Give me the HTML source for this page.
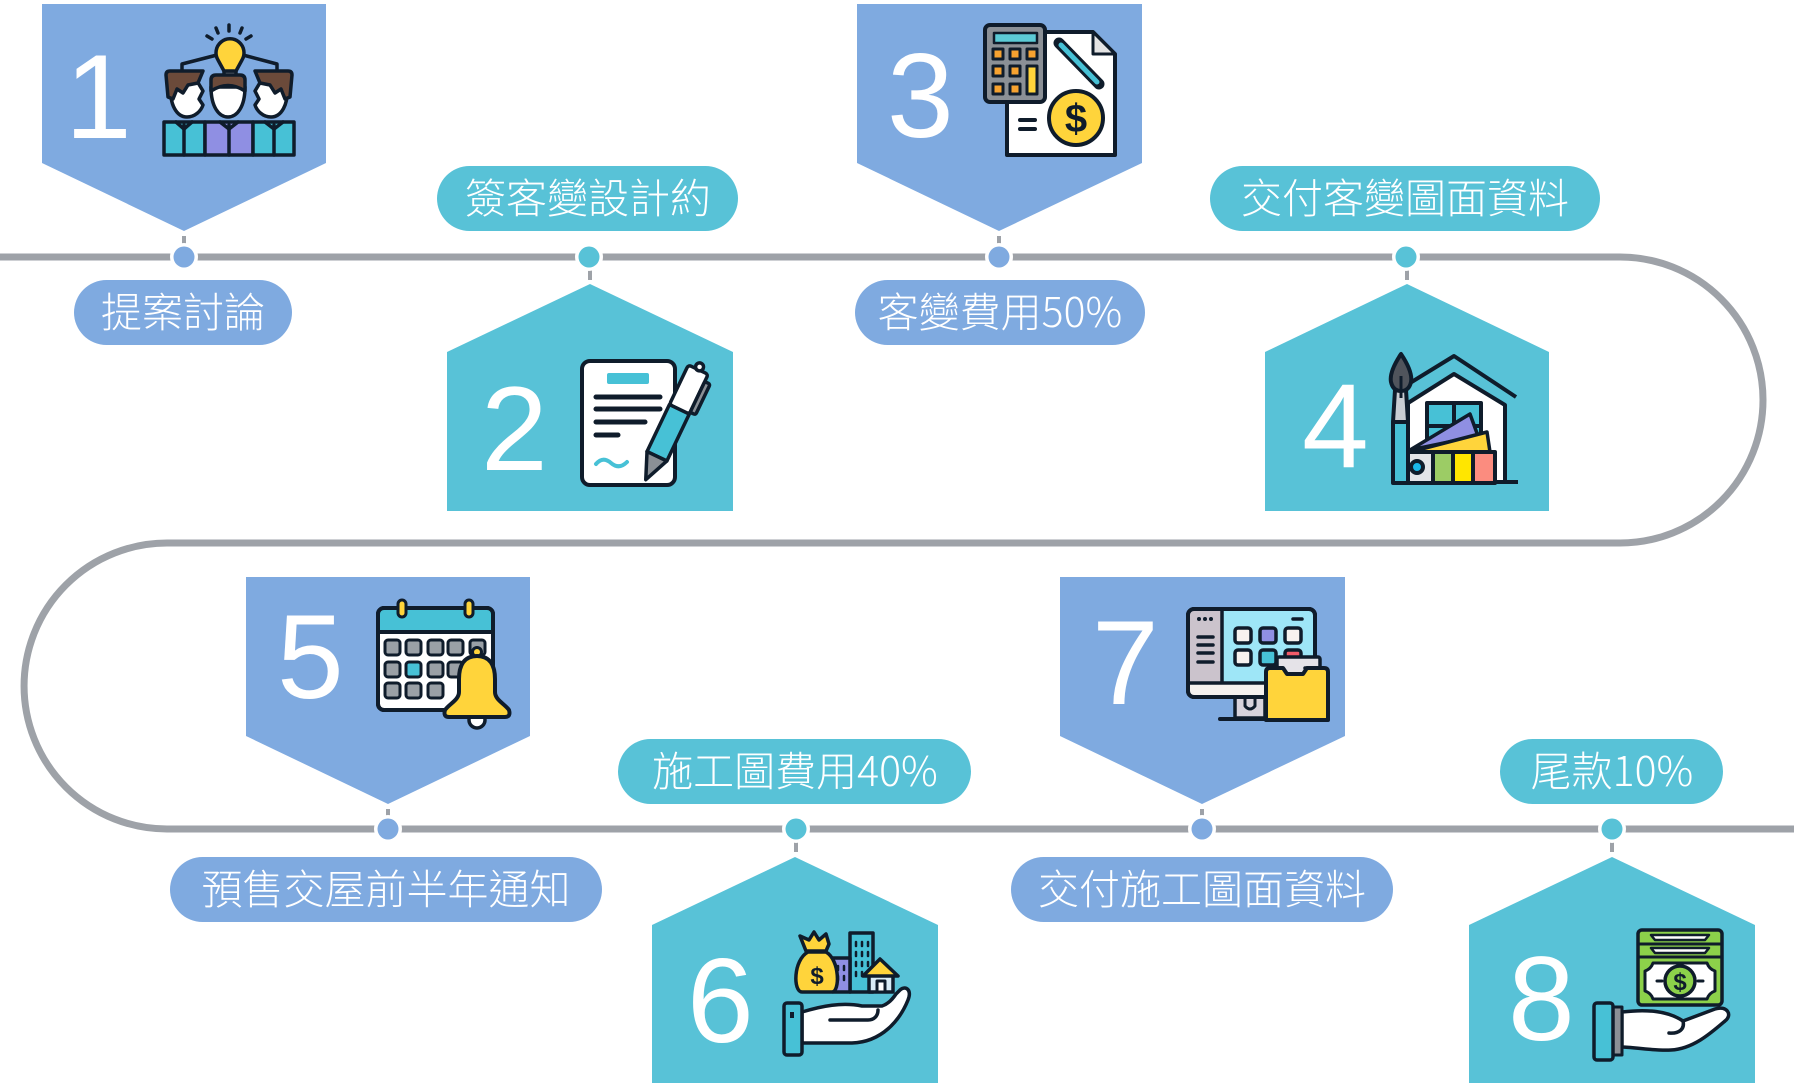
<!DOCTYPE html>
<html><head><meta charset="utf-8">
<style>
html,body{margin:0;padding:0;background:#fff;}
svg{display:block}
text{font-family:"Liberation Sans","Noto Sans CJK TC",sans-serif;}
.pt{font-weight:300;}
.nd{font-family:"Noto Sans CJK TC","Liberation Sans",sans-serif;font-weight:300;}
</style></head>
<body>
<svg width="1794" height="1088" viewBox="0 0 1794 1088" xmlns="http://www.w3.org/2000/svg">
<!-- main path -->
<path d="M0 257 H1620 A143 143 0 0 1 1620 543 H167 A143 143 0 0 0 167 829 H1794" fill="none" stroke="#9ea2a8" stroke-width="7"/>

<!-- boxes -->
<g fill="#7faae0">
<polygon points="42,4 326,4 326,163 184,231 42,163"/>
<polygon points="857,4 1142,4 1142,163 999,231 857,163"/>
<polygon points="246,577 530,577 530,736 388,804 246,736"/>
<polygon points="1060,577 1345,577 1345,736 1202,804 1060,736"/>
</g>
<g fill="#58c2d7">
<polygon points="590,284 733,352 733,511 447,511 447,352"/>
<polygon points="1407,284 1549,352 1549,511 1265,511 1265,352"/>
<polygon points="795,857 938,925 938,1083 652,1083 652,925"/>
<polygon points="1612,857 1755,925 1755,1083 1469,1083 1469,925"/>
</g>

<!-- ticks -->
<g fill="#9ea2a8">
<rect x="182" y="236" width="4" height="10"/>
<rect x="997" y="236" width="4" height="10"/>
<rect x="588" y="270" width="4" height="10"/>
<rect x="1405" y="270" width="4" height="10"/>
<rect x="386" y="809" width="4" height="10"/>
<rect x="1200" y="809" width="4" height="10"/>
<rect x="794" y="842" width="4" height="10"/>
<rect x="1610" y="842" width="4" height="10"/>
</g>

<!-- dots -->
<g fill="#fff">
<circle cx="184" cy="257" r="14"/><circle cx="589" cy="257" r="14"/><circle cx="999" cy="257" r="14"/><circle cx="1406" cy="257" r="14"/>
<circle cx="388" cy="829" r="14"/><circle cx="796" cy="829" r="14"/><circle cx="1202" cy="829" r="14"/><circle cx="1612" cy="829" r="14"/>
</g>
<g fill="#7faae0">
<circle cx="184" cy="257" r="10.5"/><circle cx="999" cy="257" r="10.5"/><circle cx="388" cy="829" r="10.5"/><circle cx="1202" cy="829" r="10.5"/>
</g>
<g fill="#58c2d7">
<circle cx="589" cy="257" r="10.5"/><circle cx="1406" cy="257" r="10.5"/><circle cx="796" cy="829" r="10.5"/><circle cx="1612" cy="829" r="10.5"/>
</g>

<!-- pills -->
<rect x="74" y="280" width="218" height="65" rx="32.5" fill="#7faae0"/>
<rect x="437" y="166" width="301" height="65" rx="32.5" fill="#58c2d7"/>
<rect x="855" y="280" width="290" height="65" rx="32.5" fill="#7faae0"/>
<rect x="1210" y="166" width="390" height="65" rx="32.5" fill="#58c2d7"/>
<rect x="170" y="857" width="432" height="65" rx="32.5" fill="#7faae0"/>
<rect x="618" y="739" width="353" height="65" rx="32.5" fill="#58c2d7"/>
<rect x="1011" y="857" width="382" height="65" rx="32.5" fill="#7faae0"/>
<rect x="1500" y="739" width="223" height="65" rx="32.5" fill="#58c2d7"/>

<g fill="#fff" font-size="41" text-anchor="middle" class="pt">
<text x="183" y="327">提案討論</text>
<text x="588" y="213">簽客變設計約</text>
<text x="1000" y="327">客變費用<tspan class="nd">50%</tspan></text>
<text x="1405" y="213">交付客變圖面資料</text>
<text x="386" y="904">預售交屋前半年通知</text>
<text x="795" y="786">施工圖費用<tspan class="nd">40%</tspan></text>
<text x="1202" y="904">交付施工圖面資料</text>
<text x="1612" y="786">尾款<tspan class="nd">10%</tspan></text>
</g>

<!-- numbers -->
<g fill="#fff" font-size="120">
<text x="65" y="138">1</text>
<text x="481" y="470">2</text>
<text x="887" y="137">3</text>
<text x="1302" y="467">4</text>
<text x="277" y="698">5</text>
<text x="687" y="1042">6</text>
<text x="1092" y="704">7</text>
<text x="1508" y="1040">8</text>
</g>

<!-- ICON 1: team idea -->
<g transform="translate(163,25)" stroke="#0f1c2b" stroke-width="3.5" stroke-linejoin="round" stroke-linecap="round">
<path d="M44 11 L49 14 M53 3 L55 8 M66 0 V6 M79 3 L77 8 M88 11 L83 14" fill="none"/>
<path d="M54 30 L19 39 V48 M80 30 L114 39 V48" fill="none"/>
<rect x="61" y="46" width="12" height="7" fill="#9aa0a6"/>
<path d="M61 46 L55 35 A14 14 0 1 1 79 35 L73 46 Z" fill="#ffd43b"/>
<!-- bodies -->
<rect x="1" y="97" width="41" height="33" fill="#47c1d6"/>
<rect x="42" y="97" width="48" height="33" fill="#8f8fe3"/>
<rect x="90" y="97" width="41" height="33" fill="#47c1d6"/>
<path d="M21 100 V130 M66 100 V130 M111 100 V130" fill="none"/>
<path d="M13 97 L21 104 L29 97 M57 97 L66 104 L75 97 M102 97 L111 104 L120 97" fill="none"/>
<!-- left head -->
<path d="M8 60 C6 80 14 92 24 92 C32 92 38 86 40 80 L36 74 L40 66 L34 56 Z" fill="#fff"/>
<path d="M3 50 Q3 46 7 46 H40 L35 58 L25 60 L20 68 L14 64 L10 74 L5 72 Z" fill="#6b4a3a"/>
<!-- middle head -->
<path d="M48 62 C48 82 56 92 65 92 C74 92 82 82 82 62 Z" fill="#fff"/>
<path d="M48 66 V55 Q48 50 53 50 H77 Q82 50 82 55 V66 Q65 55 48 66 Z" fill="#6b4a3a"/>
<!-- right head -->
<path d="M124 60 C126 80 118 92 108 92 C100 92 94 86 92 80 L96 74 L92 66 L98 56 Z" fill="#fff"/>
<path d="M129 50 Q129 46 125 46 H92 L97 58 L107 60 L112 68 L118 64 L122 74 L127 72 Z" fill="#6b4a3a"/>
</g>

<!-- ICON 2: contract -->
<g transform="translate(580,360)" stroke="#0f1c2b" stroke-linejoin="round" stroke-linecap="round">
<rect x="2" y="1" width="93" height="124" rx="8" fill="#fff" stroke-width="4"/>
<rect x="27" y="13" width="42" height="11" rx="2" fill="#47c1d6" stroke="none"/>
<path d="M16 37 H80 M16 49 H80 M16 62 H65 M16 75 H38" stroke-width="5" fill="none"/>
<path d="M16 104 Q23 96 31 103 Q39 110 47 102" stroke="#47c1d6" stroke-width="4" fill="none"/>
<g transform="translate(120,6) rotate(25.5)" stroke-width="3.5">
<rect x="-11" y="4" width="22" height="44" rx="3" fill="#fff"/>
<rect x="11" y="12" width="6" height="34" rx="2" fill="#8b9096"/>
<circle cx="0" cy="1" r="4" fill="#fff"/>
<rect x="-11" y="48" width="22" height="52" fill="#47c1d6"/>
<polygon points="-11,100 11,100 0,126" fill="#8b9096"/>
</g>
</g>

<!-- ICON 3: calculator & bill -->
<g transform="translate(985,25)" stroke="#0f1c2b" stroke-linejoin="round" stroke-linecap="round">
<path d="M22 7 H108 L130 29 V130 H22 Z" fill="#fff" stroke-width="4"/>
<path d="M108 7 V29 H130 Z" fill="#e4e4e4" stroke-width="3"/>
<rect x="0" y="0" width="60" height="77" rx="5" fill="#8b9096" stroke-width="4"/>
<rect x="9" y="8" width="43" height="10" fill="#5ccbd6" stroke-width="2.5"/>
<g fill="#f6a230" stroke-width="3">
<rect x="8" y="24" width="10" height="10"/><rect x="25" y="24" width="10" height="10"/><rect x="42" y="24" width="10" height="10"/>
<rect x="8" y="41" width="10" height="10"/><rect x="25" y="41" width="10" height="10"/>
<rect x="8" y="59" width="10" height="10"/><rect x="25" y="59" width="10" height="10"/>
</g>
<rect x="42" y="41" width="10" height="28" fill="#ffd43b" stroke-width="3"/>
<path d="M74 18 L114 59" stroke-width="11"/>
<path d="M76 20 L112 57" stroke="#47c1d6" stroke-width="5"/>
<path d="M35 95 H50 M35 104 H50" stroke-width="4"/>
<circle cx="91" cy="93" r="27" fill="#ffd43b" stroke-width="4"/>
<text x="91" y="107" font-size="40" font-weight="bold" text-anchor="middle" fill="#0f1c2b" stroke="none">$</text>
</g>

<!-- ICON 4: house & swatches -->
<g transform="translate(1390,354)" stroke="#0f1c2b" stroke-linejoin="round" stroke-width="4">
<path d="M20 29 L64 2 L126 43" fill="none"/>
<path d="M18 49 L64 20 L115 51 V128 H18 Z" fill="#fff"/>
<path d="M115 128 H128" fill="none"/>
<rect x="37" y="49" width="54" height="49" fill="#47c1d6"/>
<path d="M64 49 V98 M37 72 H91" fill="none"/>
<polygon points="20,96 80,60 88,82" fill="#8f8fe3" stroke-width="3.5"/>
<polygon points="20,98 97,78 100,98" fill="#ffd43b" stroke-width="3.5"/>
<rect x="10" y="98" width="33" height="31" fill="#e3e4e8"/>
<rect x="43" y="98" width="20" height="31" fill="#9ccc65"/>
<rect x="63" y="98" width="20" height="31" fill="#ffe600"/>
<rect x="83" y="98" width="22" height="31" fill="#fb8c7f"/>
<circle cx="27" cy="113" r="6" fill="#1ab6e8"/>
<rect x="3" y="68" width="15" height="61" fill="#47c1d6"/>
<path d="M5 36 H16 L18 68 H3 Z" fill="#c9cdd3"/>
<path d="M11 0 Q-1 18 1 28 Q3 37 11 37 Q19 37 21 28 Q23 18 11 0 Z" fill="#50545c"/>
<path d="M11 22 V44" fill="none" stroke-width="3"/>
</g>

<!-- ICON 5: calendar & bell -->
<g transform="translate(377,600)" stroke="#0f1c2b" stroke-linejoin="round">
<rect x="1" y="8" width="115" height="102" rx="6" fill="#fff" stroke-width="4"/>
<path d="M3 10 H114 V32 H3 Z" fill="#47c1d6" stroke="none"/>
<path d="M1 32 H116" stroke-width="4"/>
<rect x="1" y="8" width="115" height="102" rx="6" fill="none" stroke-width="4"/>
<rect x="21" y="0" width="8" height="17" rx="4" fill="#ffd43b" stroke-width="3"/>
<rect x="88" y="0" width="8" height="17" rx="4" fill="#ffd43b" stroke-width="3"/>
<g fill="#9aa0a6" stroke-width="3">
<rect x="8" y="40" width="15" height="15" rx="3"/><rect x="29" y="40" width="15" height="15" rx="3"/><rect x="51" y="40" width="15" height="15" rx="3"/><rect x="71" y="40" width="15" height="15" rx="3"/><rect x="93" y="40" width="15" height="15" rx="3"/>
<rect x="8" y="62" width="15" height="15" rx="3"/><rect x="29" y="62" width="15" height="15" rx="3" fill="#47c1d6"/><rect x="51" y="62" width="15" height="15" rx="3"/><rect x="71" y="62" width="15" height="15" rx="3"/>
<rect x="8" y="83" width="15" height="15" rx="3"/><rect x="29" y="83" width="15" height="15" rx="3"/><rect x="51" y="83" width="15" height="15" rx="3"/>
</g>
<circle cx="100" cy="120" r="8" fill="#fff" stroke-width="3.5"/>
<circle cx="100" cy="52" r="4.5" fill="#ffd43b" stroke-width="3"/>
<path d="M100 56 C86 56 82 67 82 79 V92 C82 100 72 104 68 110 Q66 117 72 117 H128 Q134 117 132 110 C128 104 118 100 118 92 V79 C118 67 114 56 100 56 Z" fill="#ffd43b" stroke-width="4"/>
</g>

<!-- ICON 6: hand with assets -->
<g transform="translate(782,930)" stroke="#0f1c2b" stroke-linejoin="round" stroke-linecap="round" stroke-width="3.5">
<rect x="68" y="3" width="23" height="59" fill="#47c1d6"/>
<path d="M74 12 V16 M80 12 V16 M86 12 V16 M74 22 V26 M80 22 V26 M86 22 V26 M74 32 V36 M80 32 V36 M86 32 V36 M74 42 V46 M80 42 V46" stroke-width="2.5"/>
<rect x="51" y="28" width="17" height="34" fill="#8f8fe3"/>
<path d="M56 36 V40 M62 36 V40 M56 46 V50 M62 46 V50" stroke-width="2.5"/>
<path d="M26 22 C11 30 11 62 20 62 H50 C58 62 58 30 44 22 Z" fill="#ffd43b"/>
<path d="M24 21 L18 6 L27 10 L32 2 L37 10 L44 4 L47 14 L44 21 Z" fill="#ffd43b"/>
<text x="35" y="54" font-size="24" font-weight="bold" text-anchor="middle" fill="#0f1c2b" stroke="none">$</text>
<rect x="87" y="45" width="24" height="17" fill="#d9ecf7"/>
<polygon points="81,46 98,29 116,46" fill="#ffd43b"/>
<rect x="95" y="51" width="8" height="11" fill="#fff" stroke-width="3"/>
<path d="M20 82 C40 76 60 72 80 76 L100 76 C106 74 110 70 114 64 L118 60 C124 55 130 60 126 70 C118 90 100 112 70 113 H20 Z" fill="#fff"/>
<path d="M48 90 H86 C92 90 96 86 96 80" fill="none"/>
<rect x="2" y="73" width="18" height="52" rx="3" fill="#47c1d6"/>
<rect x="8" y="82" width="4" height="6" fill="#0f1c2b" stroke="none"/>
</g>

<!-- ICON 7: monitor & folder -->
<g transform="translate(1187,608)" stroke="#0f1c2b" stroke-linejoin="round" stroke-linecap="round">
<rect x="48" y="88" width="30" height="22" fill="#d8d3dc" stroke-width="3.5"/>
<path d="M58 88 V98 Q63 104 68 98 V88" fill="none" stroke-width="3"/>
<path d="M33 111 H80" stroke-width="4"/>
<rect x="1" y="1" width="127" height="88" rx="6" fill="#9ee6f7" stroke-width="4"/>
<path d="M3 3 H35 V75 H3 Z" fill="#cbc3cc" stroke="none"/>
<path d="M3 76 H126 V87 H3 Z" fill="#f5f1ee" stroke="none"/>
<path d="M35 3 V75 M1 75 H128" stroke-width="3.5"/>
<rect x="1" y="1" width="127" height="88" rx="6" fill="none" stroke-width="4"/>
<g fill="#0f1c2b" stroke="none"><circle cx="12" cy="11" r="2"/><circle cx="18" cy="11" r="2"/><circle cx="24" cy="11" r="2"/></g>
<path d="M11 29 H26 M11 37 H26 M11 45 H26 M11 54 H26 M106 11 H115" stroke-width="3.5"/>
<g stroke-width="3.5">
<rect x="48" y="20" width="16" height="15" rx="3" fill="#f7f2ef"/><rect x="73" y="20" width="16" height="15" rx="3" fill="#8f8fe3"/><rect x="98" y="20" width="16" height="15" rx="3" fill="#f7f2ef"/>
<rect x="48" y="42" width="16" height="15" rx="3" fill="#f7f2ef"/><rect x="73" y="42" width="16" height="15" rx="3" fill="#47c1d6"/><rect x="98" y="42" width="16" height="15" rx="3" fill="#f25c6a"/>
</g>
<rect x="90" y="49" width="43" height="24" rx="2" fill="#e5e3e8" stroke-width="3.5"/>
<path d="M118 60 H126" stroke-width="3.5"/>
<path d="M79 64 Q79 60 83 60 H96 L100 66 H116 L120 60 H137 Q141 60 141 64 V112 H79 Z" fill="#ffd43b" stroke-width="4"/>
</g>

<!-- ICON 8: hand with cash -->
<g transform="translate(1593,929)" stroke="#0f1c2b" stroke-linejoin="round" stroke-linecap="round">
<rect x="45" y="1" width="84" height="75" rx="4" fill="#8cd14a" stroke-width="3.5"/>
<path d="M45 15 H129 M45 28 H129" stroke-width="3"/>
<path d="M58 6 H116 L112 11 H62 Z M58 19 H116 L112 24 H62 Z" fill="#fff" stroke-width="2.5"/>
<path d="M60 34 H114 Q116 40 122 42 V62 Q116 64 114 70 H60 Q58 64 52 62 V42 Q58 40 60 34 Z" fill="#fff" stroke-width="3"/>
<circle cx="87" cy="52" r="15" fill="#8cd14a" stroke-width="3.5"/>
<text x="87" y="61" font-size="24" font-weight="bold" text-anchor="middle" fill="#0f1c2b" stroke="none">$</text>
<path d="M64 52 H69 M105 52 H110" stroke-width="3"/>
<path d="M29 83 C55 80 75 82 90 92 L122 80 C134 76 140 86 132 92 C118 104 100 120 78 121 C60 122 40 118 29 118 Z" fill="#fff" stroke-width="3.5"/>
<path d="M76 104 C86 105 92 100 90 92" fill="none" stroke-width="3.5"/>
<rect x="20" y="78" width="9" height="48" fill="#8b9096" stroke-width="3"/>
<rect x="1" y="74" width="19" height="57" rx="3" fill="#47c1d6" stroke-width="3.5"/>
</g>
</svg>
</body></html>
